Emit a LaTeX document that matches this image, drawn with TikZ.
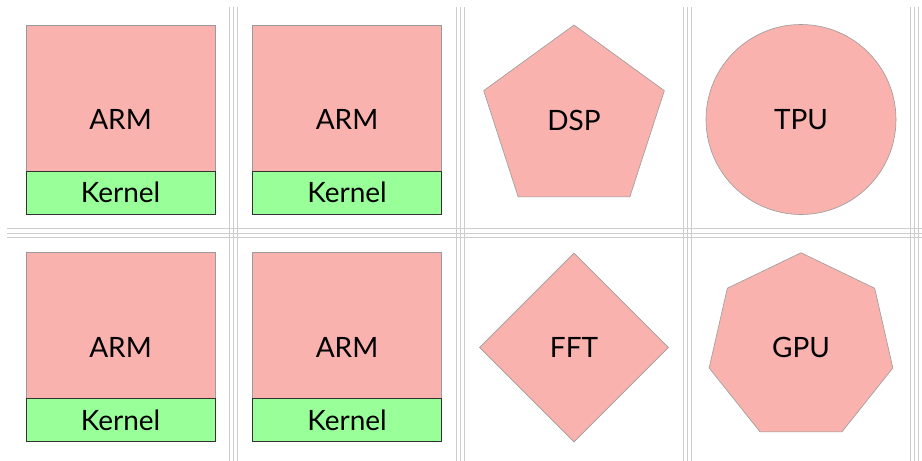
\documentclass[tikz,border=0pt]{standalone}
\usepackage{fontspec}
\setmainfont{Lato}
\usetikzlibrary{shapes.geometric}
\definecolor{cpu}{RGB}{249,178,173}
\definecolor{kern}{RGB}{153,255,153}
\definecolor{sep}{RGB}{205,205,205}
\definecolor{pinkedge}{RGB}{155,155,155}
\tikzset{
  lbl/.style={font=\fontsize{28}{32}\selectfont, inner sep=0pt},
  unit/.style={fill=cpu, draw=pinkedge, line width=0.6pt, inner sep=0pt, lbl},
  armbox/.style={unit, rectangle, minimum width=189pt, minimum height=189pt},
  kernbox/.style={fill=kern, draw=black!80, line width=0.8pt, rectangle, inner sep=0pt,
    minimum width=189pt, minimum height=43pt, lbl},
  sepline/.style={draw=sep, line width=0.9pt},
}
\begin{document}
\begin{tikzpicture}[x=1pt,y=-1pt]
\useasboundingbox (0,0) rectangle (922,461);
% separators
\foreach \x in {229.3,456.5,683.5,910.3}{
  \foreach \d in {0,4.2,8.4}{
    \draw[sepline] (\x+\d,7) -- (\x+\d,461);
  }
}
\foreach \d in {0,4.6,9.2}{
  \draw[sepline] (7,228.7+\d) -- (922,228.7+\d);
}
% row 1
\node[armbox] (arm1) at (120.5,119.5) {};
\node[kernbox, anchor=south] (k1) at (arm1.south) {Kernel};
\node[lbl] (arm1t) at (arm1.center) {ARM};
\node[armbox] (arm2) at (347,119.5) {};
\node[kernbox, anchor=south] (k2) at (arm2.south) {Kernel};
\node[lbl] (arm2t) at (arm2.center) {ARM};
\node[unit, regular polygon, regular polygon sides=5, minimum size=190pt] (dsp) at (574,120) {DSP};
\node[unit, circle, minimum size=190pt] (tpu) at (801,119.5) {TPU};
% row 2
\node[armbox] (arm3) at (120.5,347) {};
\node[kernbox, anchor=south] (k3) at (arm3.south) {Kernel};
\node[lbl] (arm3t) at (arm3.center) {ARM};
\node[armbox] (arm4) at (347,347) {};
\node[kernbox, anchor=south] (k4) at (arm4.south) {Kernel};
\node[lbl] (arm4t) at (arm4.center) {ARM};
\node[unit, diamond, minimum width=189pt, minimum height=189pt] (fft) at (574,347.5) {FFT};
\node[unit, regular polygon, regular polygon sides=7, minimum size=188.5pt] (gpu) at (801,347) {GPU};
\end{tikzpicture}
\end{document}
